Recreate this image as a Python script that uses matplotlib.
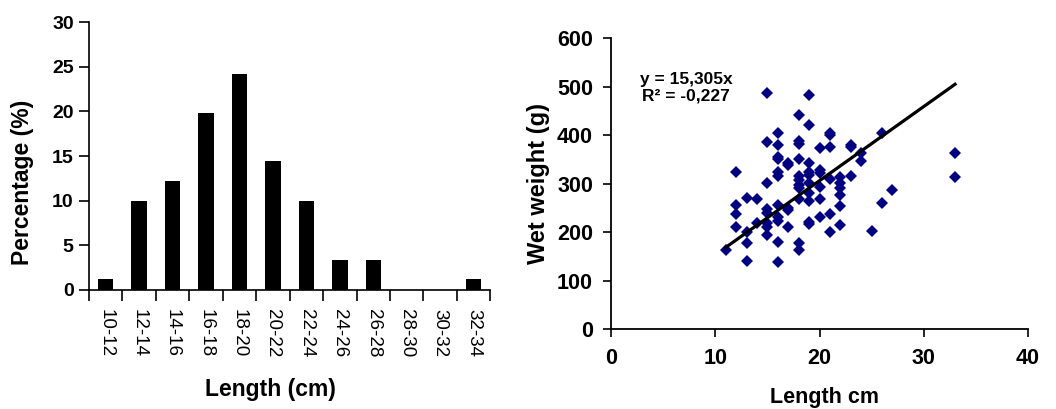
import matplotlib
matplotlib.use('Agg')
import matplotlib.pyplot as plt
import numpy as np

plt.rcParams['font.family'] = ['Liberation Sans', 'DejaVu Sans']

# left panel: length-frequency distribution
classes = ['10-12', '12-14', '14-16', '16-18', '18-20', '20-22',
           '22-24', '24-26', '26-28', '28-30', '30-32', '32-34']
percent = [1.2, 10.0, 12.2, 19.8, 24.2, 14.4, 10.0, 3.4, 3.4, 0.0, 0.0, 1.2]

# right panel: length vs wet weight
length_cm = [11,
             12, 12, 12, 12,
             13, 13, 13, 13,
             14, 14,
             15, 15, 15, 15, 15, 15, 15, 15,
             16, 16, 16, 16, 16, 16, 16, 16, 16, 16, 16,
             17, 17, 17, 17, 17,
             18, 18, 18, 18, 18, 18, 18, 18, 18, 18, 18,
             19, 19, 19, 19, 19, 19, 19, 19, 19, 19,
             20, 20, 20, 20, 20, 20,
             21, 21, 21, 21, 21, 21,
             22, 22, 22, 22, 22, 22,
             23, 23, 23,
             24, 24,
             25,
             26, 26,
             27,
             33, 33]
wet_weight = [164,
              325, 255, 237, 211,
              270, 201, 178, 141,
              268, 218,
              487, 386, 301, 247, 240, 218, 211, 195,
              404, 379, 356, 350, 323, 315, 256, 232, 222, 180, 139,
              343, 338, 249, 246, 210,
              442, 387, 382, 350, 315, 308, 298, 292, 269, 178, 163,
              482, 421, 342, 325, 318, 302, 280, 265, 220, 217,
              373, 328, 321, 294, 268, 231,
              405, 401, 376, 310, 237, 200,
              313, 301, 290, 277, 253, 215,
              380, 376, 315,
              363, 346,
              203,
              404, 261,
              287,
              363, 313]
slope = 15.305
eq_text = 'y = 15,305x\nR\u00b2 = -0,227'

fig = plt.figure(figsize=(10.56, 4.09), dpi=100)

# ---- histogram ----
ax1 = fig.add_axes([0.0843, 0.291, 0.380, 0.655])
pos = np.arange(len(classes))
ax1.bar(pos, percent, width=0.46, color='black')
ax1.set_xlim(-0.5, len(classes) - 0.5)
ax1.set_ylim(0, 30)
ax1.set_yticks(range(0, 31, 5))
ax1.set_xticks(pos)
ax1.set_xticklabels(classes, rotation=270, fontsize=13.5)
ax1.set_xticks(np.arange(-0.5, len(classes), 1), minor=True)
ax1.tick_params(axis='x', which='major', length=0, pad=14)
ax1.tick_params(axis='x', which='minor', length=8, width=1.2, direction='out')
ax1.tick_params(axis='y', length=7, width=1.2, direction='out', pad=4, labelsize=14)
for lab in ax1.get_yticklabels():
    lab.set_fontweight('bold')
for side in ['top', 'right']:
    ax1.spines[side].set_visible(False)
for side in ['left', 'bottom']:
    ax1.spines[side].set_linewidth(1.2)
ax1.set_xlabel('Length (cm)', fontsize=16.5, fontweight='bold', va='center')
ax1.xaxis.set_label_coords(0.453, -0.37)
ax1.set_ylabel('Percentage (%)', fontsize=16.5, fontweight='bold', va='center')
ax1.yaxis.set_label_coords(-0.165, 0.40)

# ---- scatter ----
ax2 = fig.add_axes([0.5786, 0.1956, 0.3949, 0.7108])
ax2.plot(length_cm, wet_weight, linestyle='none', marker='D', markersize=6.3,
         color='#000080', markeredgewidth=0)
xl = np.array([min(length_cm), max(length_cm)])
ax2.plot(xl, slope * xl, color='black', linewidth=2.3)
ax2.text(7.2, 498, eq_text, ha='center', va='center', fontsize=12.5,
         fontweight='bold', linespacing=1.15)
ax2.set_xlim(0, 40)
ax2.set_ylim(0, 600)
ax2.set_xticks(range(0, 41, 10))
ax2.set_yticks(range(0, 601, 100))
ax2.tick_params(axis='both', length=5.5, width=1.2, direction='out', labelsize=15.5)
ax2.tick_params(axis='y', pad=7.5)
ax2.tick_params(axis='x', pad=8.5)
for lab in ax2.get_xticklabels() + ax2.get_yticklabels():
    lab.set_fontweight('bold')
for side in ['top', 'right']:
    ax2.spines[side].set_visible(False)
for side in ['left', 'bottom']:
    ax2.spines[side].set_linewidth(1.3)
ax2.set_xlabel('Length cm', fontsize=15.5, fontweight='bold', va='center')
ax2.xaxis.set_label_coords(0.511, -0.234)
ax2.set_ylabel('Wet weight (g)', fontsize=17, fontweight='bold', va='center')
ax2.yaxis.set_label_coords(-0.175, 0.5)

fig.savefig('out.png', dpi=100)
